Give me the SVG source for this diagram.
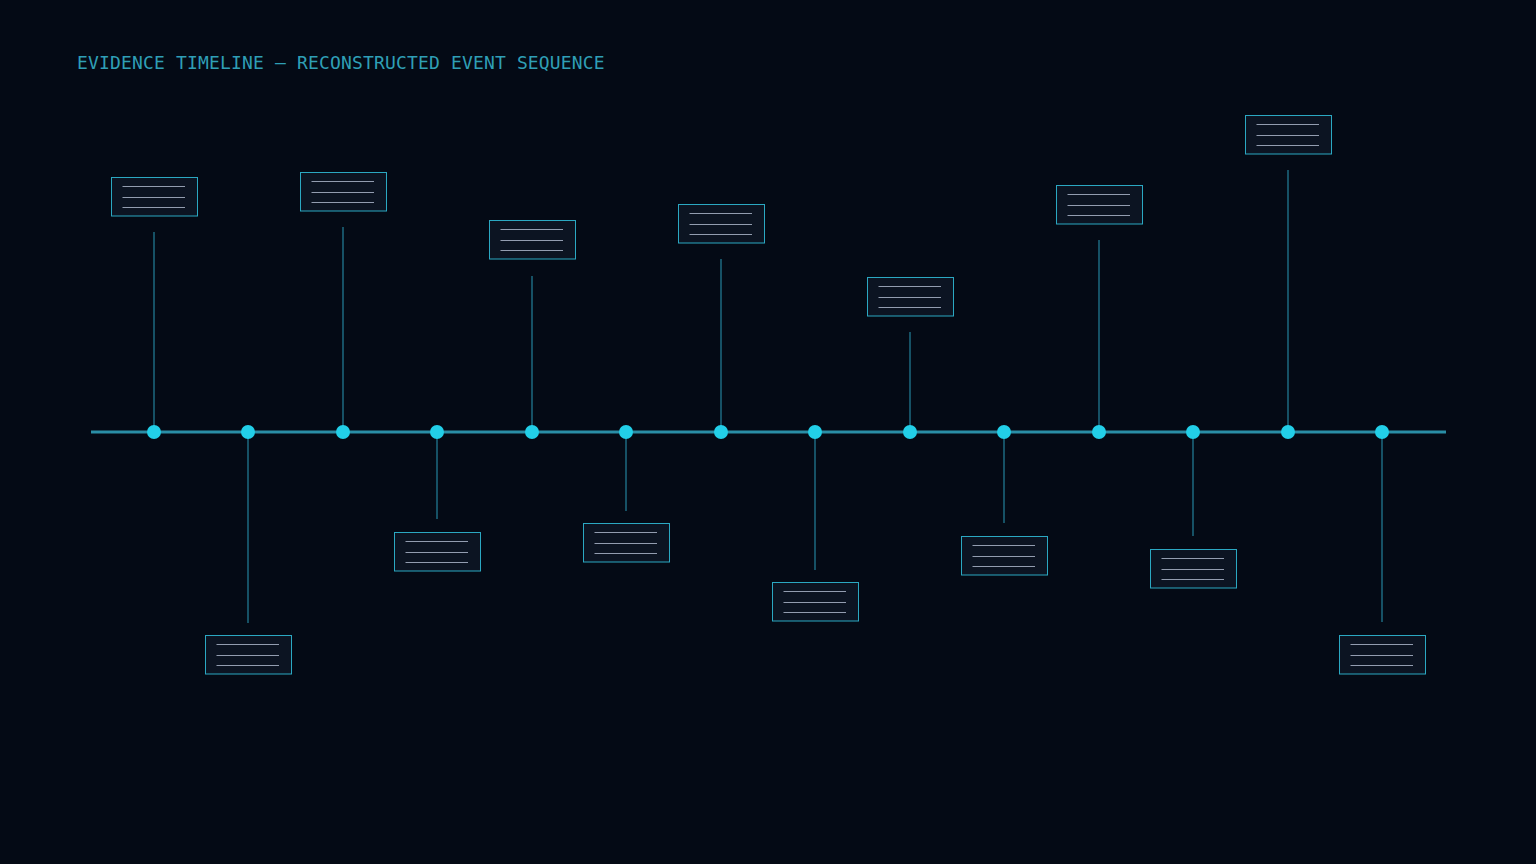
<svg xmlns="http://www.w3.org/2000/svg" width="1536" height="864" viewBox="0 0 1536 864">
<defs>
<style>
.title{font-family:"DejaVu Sans Mono","Liberation Mono",monospace;font-size:18px;fill:#2f9fb5;letter-spacing:0.16px}
.axis{stroke:#2a8ea6;stroke-width:3;fill:none}
.stem{stroke:#1d6a80;stroke-width:1.5;fill:none}
.dot{fill:#22cfe8}
.card{fill:#0c1422;stroke:#2ba8c2;stroke-width:1}
.ln{stroke:#939db0;stroke-width:1}
</style>
<g id="card-tpl">
<rect class="card" x="0.5" y="0.5" width="86" height="38.5"/>
<line class="ln" x1="11.5" y1="9.5" x2="74" y2="9.5"/>
<line class="ln" x1="11.5" y1="20.5" x2="74" y2="20.5"/>
<line class="ln" x1="11.5" y1="30.5" x2="74" y2="30.5"/>
</g>
</defs>
<rect width="1536" height="864" fill="#040a15"/>
<text class="title" x="77" y="69">EVIDENCE TIMELINE — RECONSTRUCTED EVENT SEQUENCE</text>
<g id="connectors">
<line class="axis" x1="91" y1="432" x2="1446" y2="432"/>
<line class="stem" x1="154" y1="232" x2="154" y2="432"/>
<line class="stem" x1="248" y1="432" x2="248" y2="623"/>
<line class="stem" x1="343" y1="227" x2="343" y2="432"/>
<line class="stem" x1="437" y1="432" x2="437" y2="519"/>
<line class="stem" x1="532" y1="276" x2="532" y2="432"/>
<line class="stem" x1="626" y1="432" x2="626" y2="511"/>
<line class="stem" x1="721" y1="259" x2="721" y2="432"/>
<line class="stem" x1="815" y1="432" x2="815" y2="570"/>
<line class="stem" x1="910" y1="332" x2="910" y2="432"/>
<line class="stem" x1="1004" y1="432" x2="1004" y2="523"/>
<line class="stem" x1="1099" y1="240" x2="1099" y2="432"/>
<line class="stem" x1="1193" y1="432" x2="1193" y2="536"/>
<line class="stem" x1="1288" y1="170" x2="1288" y2="432"/>
<line class="stem" x1="1382" y1="432" x2="1382" y2="622"/>
</g>
<g id="event-1"><circle class="dot" cx="154" cy="432" r="7"/><use href="#card-tpl" x="111" y="177"/></g>
<g id="event-2"><circle class="dot" cx="248" cy="432" r="7"/><use href="#card-tpl" x="205" y="635"/></g>
<g id="event-3"><circle class="dot" cx="343" cy="432" r="7"/><use href="#card-tpl" x="300" y="172"/></g>
<g id="event-4"><circle class="dot" cx="437" cy="432" r="7"/><use href="#card-tpl" x="394" y="532"/></g>
<g id="event-5"><circle class="dot" cx="532" cy="432" r="7"/><use href="#card-tpl" x="489" y="220"/></g>
<g id="event-6"><circle class="dot" cx="626" cy="432" r="7"/><use href="#card-tpl" x="583" y="523"/></g>
<g id="event-7"><circle class="dot" cx="721" cy="432" r="7"/><use href="#card-tpl" x="678" y="204"/></g>
<g id="event-8"><circle class="dot" cx="815" cy="432" r="7"/><use href="#card-tpl" x="772" y="582"/></g>
<g id="event-9"><circle class="dot" cx="910" cy="432" r="7"/><use href="#card-tpl" x="867" y="277"/></g>
<g id="event-10"><circle class="dot" cx="1004" cy="432" r="7"/><use href="#card-tpl" x="961" y="536"/></g>
<g id="event-11"><circle class="dot" cx="1099" cy="432" r="7"/><use href="#card-tpl" x="1056" y="185"/></g>
<g id="event-12"><circle class="dot" cx="1193" cy="432" r="7"/><use href="#card-tpl" x="1150" y="549"/></g>
<g id="event-13"><circle class="dot" cx="1288" cy="432" r="7"/><use href="#card-tpl" x="1245" y="115"/></g>
<g id="event-14"><circle class="dot" cx="1382" cy="432" r="7"/><use href="#card-tpl" x="1339" y="635"/></g>
</svg>
